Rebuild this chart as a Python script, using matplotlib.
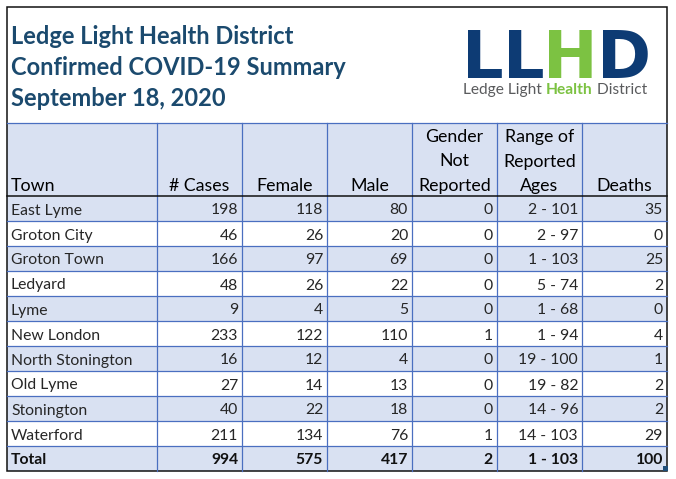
import matplotlib
matplotlib.use("Agg")
import matplotlib.pyplot as plt
from matplotlib.patches import Rectangle

# ---------------- data ----------------
title_lines = ["Ledge Light Health District",
               "Confirmed COVID-19 Summary",
               "September 18, 2020"]
headers = [["Town"], ["# Cases"], ["Female"], ["Male"],
           ["Gender", "Not", "Reported"],
           ["Range of", "Reported", "Ages"],
           ["Deaths"]]
towns = ["East Lyme", "Groton City", "Groton Town", "Ledyard", "Lyme",
         "New London", "North Stonington", "Old Lyme", "Stonington", "Waterford"]
cases = [198, 46, 166, 48, 9, 233, 16, 27, 40, 211]
female = [118, 26, 97, 26, 4, 122, 12, 14, 22, 134]
male = [80, 20, 69, 22, 5, 110, 4, 13, 18, 76]
gender_not_reported = [0, 0, 0, 0, 0, 1, 0, 0, 0, 1]
age_ranges = ["2 - 101", "2 - 97", "1 - 103", "5 - 74", "1 - 68",
              "1 - 94", "19 - 100", "19 - 82", "14 - 96", "14 - 103"]
deaths = [35, 0, 25, 2, 0, 4, 1, 2, 2, 29]
total_row = ["Total", 994, 575, 417, 2, "1 - 103", 100]
logo_letters = ["L", "L", "H", "D"]
logo_tag = ["Ledge Light ", "Health", " District"]

# ---------------- style ----------------
FONT = "Lato"
NAVY = "#0d3b74"
GREEN = "#7cc242"
TITLE_C = "#1b4a6e"
BAND = "#d9e1f2"
GRID = "#4a6fc0"

W, H = 676, 479
fig = plt.figure(figsize=(W / 100, H / 100), dpi=100)
ax = fig.add_axes([0, 0, 1, 1])
ax.set_xlim(0, W)
ax.set_ylim(H, 0)
ax.axis("off")

col_edges = [7, 157, 242, 327, 412, 497, 582, 667]
header_top, header_bot, row_h = 123, 196, 25
rows = [[t, c, f, m, g, a, d] for t, c, f, m, g, a, d in
        zip(towns, cases, female, male, gender_not_reported, age_ranges, deaths)]
rows.append(total_row)
n = len(rows)
table_bot = header_bot + n * row_h

# header band
ax.add_patch(Rectangle((col_edges[0], header_top), col_edges[-1] - col_edges[0],
                       header_bot - header_top, facecolor=BAND, edgecolor="none"))
for i in range(n):
    if i % 2 == 0:
        ax.add_patch(Rectangle((col_edges[0], header_bot + i * row_h),
                               col_edges[-1] - col_edges[0], row_h,
                               facecolor=BAND, edgecolor="none"))

# grid lines
for x in col_edges[1:-1]:
    ax.plot([x, x], [header_top, table_bot], color=GRID, lw=0.9)
ax.plot([col_edges[0], col_edges[-1]], [header_top, header_top], color=GRID, lw=0.9)
for i in range(1, n):
    y = header_bot + i * row_h
    ax.plot([col_edges[0], col_edges[-1]], [y, y], color=GRID, lw=0.9)
ax.plot([col_edges[0], col_edges[-1]], [header_bot, header_bot], color="#111111", lw=1.1)

# outer frame
ax.add_patch(Rectangle((7, 7), 660, table_bot - 7, facecolor="none",
                       edgecolor="#111111", lw=1.1))
ax.add_patch(Rectangle((663, table_bot - 5), 5, 5, facecolor="#1f4e79", edgecolor="none"))

# title
for k, line in enumerate(title_lines):
    ax.text(11, 44 + k * 31, line, fontsize=17, fontweight="bold", family=FONT,
            color=TITLE_C, ha="left", va="baseline")

# headers
for j, lines in enumerate(headers):
    for k, line in enumerate(reversed(lines)):
        y = 191 - k * 24.5
        if j == 0:
            ax.text(11, y, line, fontsize=12.8, family=FONT, color="black",
                    ha="left", va="baseline")
        else:
            ax.text((col_edges[j] + col_edges[j + 1]) / 2, y, line, fontsize=12.8,
                    family=FONT, color="black", ha="center", va="baseline")

# body
for i, row in enumerate(rows):
    yc = header_bot + i * row_h + row_h / 2 + 2
    bold = (i == n - 1)
    for j, val in enumerate(row):
        kw = dict(fontsize=11.3, family=FONT, color="#111111" if bold else "#262626",
                  va="center", fontweight="bold" if bold else "normal")
        if j == 0:
            ax.text(11, yc, str(val), ha="left", **kw)
        else:
            ax.text(col_edges[j + 1] - 4, yc, str(val), ha="right", **kw)

# logo
fig.canvas.draw()
r = fig.canvas.get_renderer()
inv = ax.transData.inverted()
x = 462
colors = [NAVY, NAVY, GREEN, NAVY]
for letter, c in zip(logo_letters, colors):
    t = ax.text(x, 78, letter, fontsize=47, fontweight="black", family="DejaVu Sans",
                color=c, ha="left", va="baseline")
    bb = t.get_window_extent(r)
    x1, _ = inv.transform((bb.x1, 0))
    x = x1 - 1
tx = 463
tcolors = ["#5a5b5d", GREEN, "#5a5b5d"]
tweights = ["normal", "bold", "normal"]
for part, c, wgt in zip(logo_tag, tcolors, tweights):
    t = ax.text(tx, 94, part, fontsize=11.2, fontweight=wgt, family=FONT,
                color=c, ha="left", va="baseline")
    bb = t.get_window_extent(r)
    x1, _ = inv.transform((bb.x1, 0))
    tx = x1

fig.savefig("out.png", dpi=100)
